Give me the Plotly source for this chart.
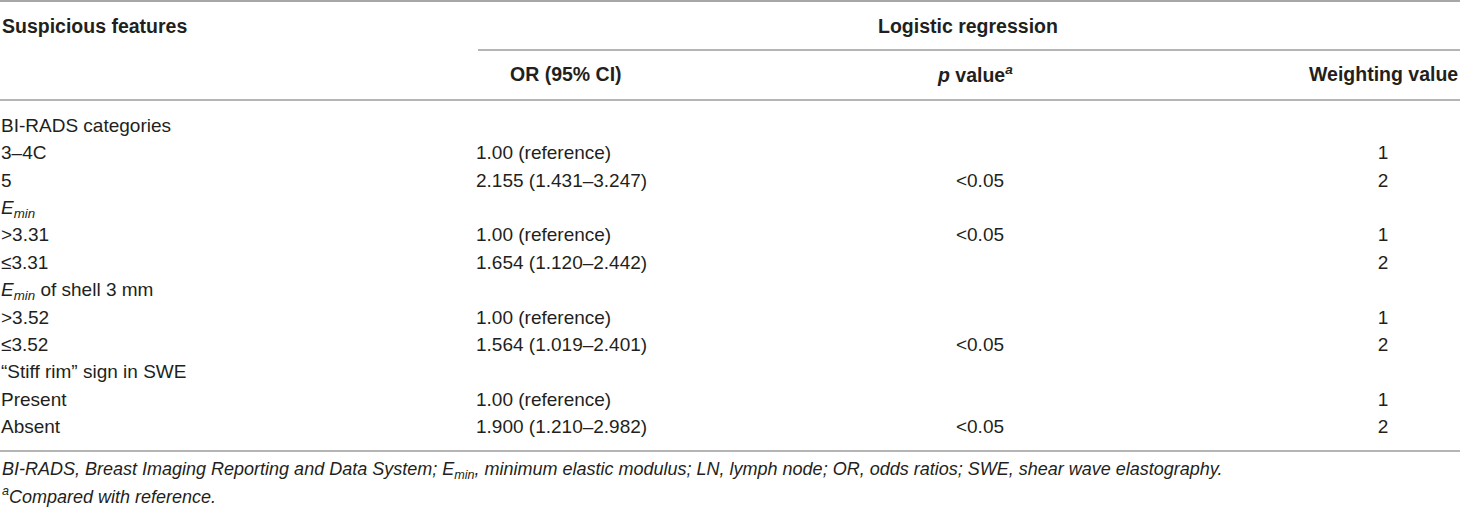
import plotly.graph_objects as go

# table content
features = [
    "BI-RADS categories", "3–4C", "5", "<i>E<sub>min</sub></i>", "&gt;3.31", "≤3.31",
    "<i>E<sub>min</sub></i> of shell 3 mm", "&gt;3.52", "≤3.52",
    "“Stiff rim” sign in SWE", "Present", "Absent",
]
or_ci = [
    "", "1.00 (reference)", "2.155 (1.431–3.247)", "", "1.00 (reference)", "1.654 (1.120–2.442)",
    "", "1.00 (reference)", "1.564 (1.019–2.401)", "", "1.00 (reference)", "1.900 (1.210–2.982)",
]
p_values = ["", "", "&lt;0.05", "", "&lt;0.05", "", "", "", "&lt;0.05", "", "", "&lt;0.05"]
weights = ["", "1", "2", "", "1", "2", "", "1", "2", "", "1", "2"]

headers = ["Suspicious features", "OR (95% CI)", "<i>p</i> value<sup><i>a</i></sup>", "Weighting value"]
group_header = "Logistic regression"
footnotes = [
    "<i>BI-RADS, Breast Imaging Reporting and Data System; E<sub>min</sub>, minimum elastic modulus; "
    "LN, lymph node; OR, odds ratios; SWE, shear wave elastography.</i>",
    "<sup><i>a</i></sup><i>Compared with reference.</i>",
]

W, H = 1460, 508
FONT = "Liberation Sans, Arial, Helvetica, sans-serif"
TXT = "#231f20"
LINE = "#9d9d9d"

first_row, row_step = 127, 27.4
row_y = [first_row + i * row_step for i in range(len(features))]

fig = go.Figure()


def add_column(values, x, position):
    keep = [i for i, v in enumerate(values) if v]
    fig.add_trace(go.Scatter(
        x=[x] * len(keep), y=[row_y[i] for i in keep], text=[values[i] for i in keep],
        mode="text", textposition=position, hoverinfo="skip",
    ))


add_column(features, 1, "middle right")
add_column(or_ci, 476, "middle right")
add_column(p_values, 980, "middle center")
add_column(weights, 1383, "middle center")
fig.update_traces(textfont=dict(family=FONT, size=19, color=TXT))

# header text
hdr = dict(font=dict(family=FONT, size=19.5, color=TXT), showarrow=False, yanchor="middle")
fig.add_annotation(x=0, y=26, text=f"<b>{headers[0]}</b>", xanchor="left", **hdr)
fig.add_annotation(x=968, y=26, text=f"<b>{group_header}</b>", xanchor="center", **hdr)
fig.add_annotation(x=566, y=74, text=f"<b>{headers[1]}</b>", xanchor="center", **hdr)
fig.add_annotation(x=975, y=74, text=f"<b>{headers[2]}</b>", xanchor="center", **hdr)
fig.add_annotation(x=1460, y=74, text=f"<b>{headers[3]}</b>", xanchor="right", **hdr)

for yy, note in zip([470, 495], footnotes):
    fig.add_annotation(x=0, y=yy, text=note, xanchor="left", yanchor="middle", showarrow=False,
                       font=dict(family=FONT, size=18, color=TXT))

# rules
for x0, y0, c in [(0, 1, "#8a8a8a"), (478, 50, LINE), (0, 100, LINE), (0, 451, LINE)]:
    fig.add_shape(type="line", x0=x0, x1=W, y0=y0, y1=y0, line=dict(color=c, width=1.4))

fig.update_layout(
    width=W, height=H,
    margin=dict(l=0, r=0, t=0, b=0),
    paper_bgcolor="white", plot_bgcolor="white",
    showlegend=False,
    xaxis=dict(range=[0, W], visible=False, fixedrange=True),
    yaxis=dict(range=[H, 0], visible=False, fixedrange=True),
)

fig.write_html("out.html", config={"displayModeBar": False},
               post_script="document.body.style.margin='0';")
